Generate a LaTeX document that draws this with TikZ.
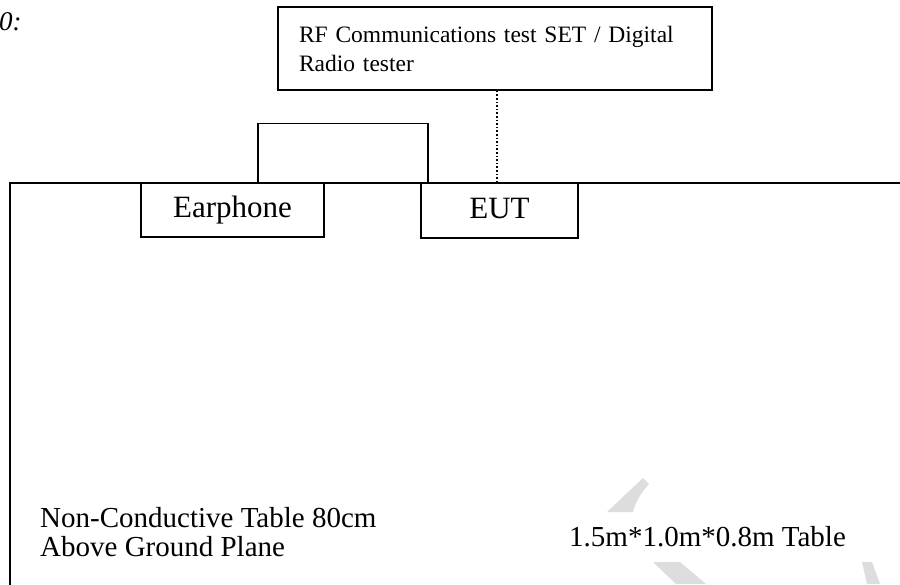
\documentclass[tikz,border=0pt]{standalone}
\usepackage{fontspec}
\setmainfont{Liberation Serif}
\usepackage{xcolor}
\usepackage{tikz}
\usetikzlibrary{positioning}
\tikzstyle{box} = [draw, line width=1.4pt, inner sep=0pt]
\tikzstyle{devbox} = [box, fill=white, text height=21pt, text depth=6pt, font=\fontsize{31}{34}\selectfont]
\tikzstyle{tableline} = [line width=2pt]
\tikzstyle{dotline} = [line width=1.6pt, dotted]
\tikzstyle{lbl} = [inner sep=0pt, font=\fontsize{29}{29}\selectfont]

\begin{document}
\begin{tikzpicture}[x=1pt, y=-1pt]
    \useasboundingbox (0,0) rectangle (900,584);

    % Watermark pieces in the background
    \fill[gray!27] (607,512) -- (643,478) -- (649,484) .. controls (640,494) and (635,503) .. (633,512) -- cycle;
    \fill[gray!27] (653,562) -- (680,562) -- (706,584) -- (676,584) -- cycle;
    \fill[gray!27] (862,562) -- (872,562) -- (880,584) -- (867,584) -- cycle;

    % Caption fragment
    \node[anchor=base west, inner sep=0pt, font=\fontsize{27}{30}\selectfont\itshape] (cap) at (-1,30) {0:};

    % Test set
    \node[box, minimum width=434, minimum height=83, text width=392, align=left,
          font=\fontsize{23.5}{29}\selectfont] (rf) at (495,48.5)
          {RF Communications test SET / Digital\\Radio tester};

    % Table
    \coordinate (tl) at (10,183);
    \draw[tableline] (10,590) -- (tl) -- (905,183);

    % Devices on the table
    \node[devbox, minimum width=183, minimum height=54] (ear) at (232.5,210) {Earphone};
    \node[devbox, minimum width=157, minimum height=55] (eut) at (499.5,210.5) {EUT};

    % Earphone cable and radio link
    \draw[line width=1.4pt] ([xshift=25.5]ear.north) -- ++(0,-59) -| ([xshift=-71.5]eut.north);
    \draw[dotline] ([xshift=2]rf.south) -- ([xshift=2]rf.south |- tl);

    % Table labels
    \node[lbl, anchor=north west, align=left] (note) at (40,507.5)
          {Non-Conductive Table 80cm\\Above Ground Plane};
    \node[lbl, anchor=base west] (size) at (569,546) {1.5m*1.0m*0.8m Table};
\end{tikzpicture}
\end{document}
